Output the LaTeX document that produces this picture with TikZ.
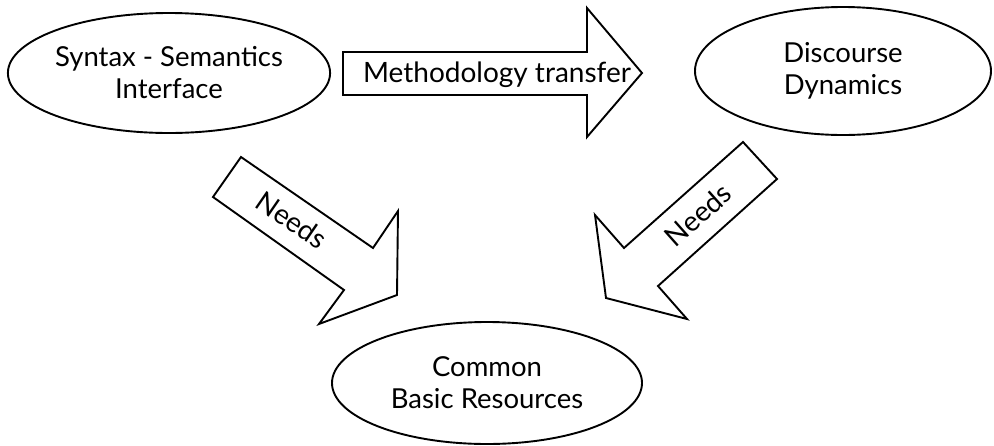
\documentclass[tikz,border=0pt]{standalone}
\usepackage{fontspec}
\setmainfont{Lato}
\usetikzlibrary{shapes.geometric}
\begin{document}
\begin{tikzpicture}[x=1pt,y=-1pt,
  topic/.style={ellipse, draw, line width=1.9pt, align=center,
    font=\fontsize{27.5}{32}\selectfont, inner sep=0pt},
  blockarrow/.style={draw, line width=1.9pt, line join=miter, fill=white},
  arrowlabel/.style={font=\fontsize{28}{30}\selectfont, inner sep=0pt}]
\useasboundingbox (0,0) rectangle (994,445);

% the three topics
\node[topic, minimum width=318pt, minimum height=120pt] (sem) at (169,73)
  {Syntax - Semantics\\Interface};
\node[topic, minimum width=296pt, minimum height=128pt] (disc) at (843,71)
  {Discourse\\Dynamics};
\node[topic, minimum width=310pt, minimum height=122pt] (res) at (487,383)
  {Common\\Basic Resources};

% block arrow: methodology transfer
\coordinate (t1) at (343,52);  \coordinate (t2) at (587,52);
\coordinate (t3) at (587,8);   \coordinate (t4) at (642,73);
\coordinate (t5) at (587,137); \coordinate (t6) at (587,95);
\coordinate (t7) at (343,95);
\draw[blockarrow] (t1) -- (t2) -- (t3) -- (t4) -- (t5) -- (t6) -- (t7) -- cycle;
\node[arrowlabel, anchor=base] (transfer) at (497,82) {Methodology transfer};

% block arrow: left needs
\coordinate (a1) at (241,157); \coordinate (a2) at (373,248);
\coordinate (a3) at (398,211); \coordinate (a4) at (397,295);
\coordinate (a5) at (319,324); \coordinate (a6) at (344,290);
\coordinate (a7) at (213,197);
\draw[blockarrow] (a1) -- (a2) -- (a3) -- (a4) -- (a5) -- (a6) -- (a7) -- cycle;
\node[arrowlabel, rotate=-34.6] (needsL) at (292,220) {Needs};

% block arrow: right needs
\coordinate (b1) at (743,142); \coordinate (b2) at (777,179);
\coordinate (b3) at (658,286); \coordinate (b4) at (687,319);
\coordinate (b5) at (606,298); \coordinate (b6) at (595,215);
\coordinate (b7) at (624,248);
\draw[blockarrow] (b1) -- (b2) -- (b3) -- (b4) -- (b5) -- (b6) -- (b7) -- cycle;
\node[arrowlabel, rotate=41.7] (needsR) at (698,215) {Needs};
\end{tikzpicture}
\end{document}
